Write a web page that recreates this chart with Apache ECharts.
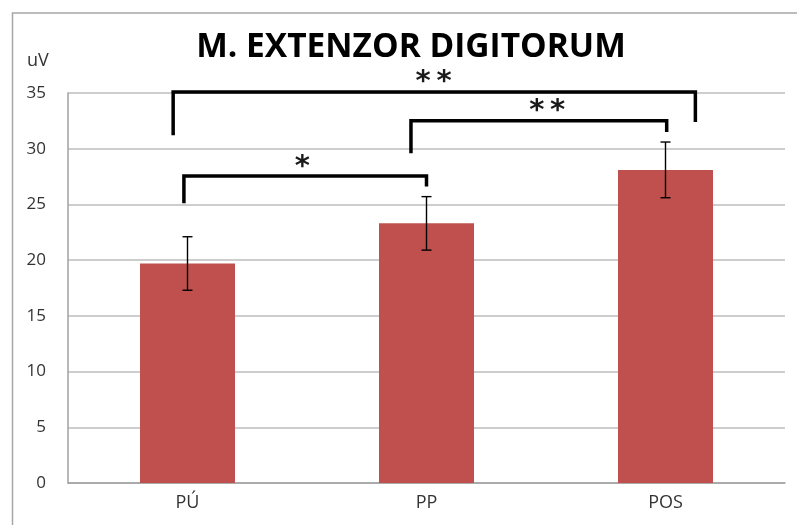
<!DOCTYPE html>
<html><head><meta charset="utf-8">
<script src="https://cdn.jsdelivr.net/npm/echarts@6/dist/echarts.min.js"></script>
<style>html,body{margin:0;padding:0;background:#fff}#c{width:797px;height:525px}</style>
</head><body><div id="c"></div>
<script>
// ---- data ----
const categories = ['PÚ', 'PP', 'POS'];
const means = [19.7, 23.3, 28.1];
const errors = [2.4, 2.4, 2.5];
const yMin = 0, yMax = 35, yStep = 5;
// significance brackets (x in category units, y in uV)
const bracketLeft = [-0.015, 0.935, -0.06];
const bracketRight = [1.0, 2.005, 2.125];
const bracketTop = [27.55, 32.5, 35.1];
const bracketLeftEnd = [25.1, 29.6, 31.2];
const bracketRightEnd = [26.6, 31.5, 32.4];
const bracketLabels = ['*', '**', '**'];
const bracketLabelX = [0.48, 1.505, 1.03];

const errData = categories.map((c, i) => [i, means[i] + errors[i], means[i] - errors[i]]);
const brData = bracketLabels.map((l, i) => [bracketLeft[i], bracketRight[i], bracketTop[i], bracketLeftEnd[i], bracketRightEnd[i], bracketLabelX[i]]);

const chart = echarts.init(document.getElementById('c'), null, {renderer: 'canvas'});
chart.setOption({
  animation: false,
  backgroundColor: '#fff',
  title: {
    text: 'M. EXTENZOR DIGITORUM',
    left: 406, top: 25, textAlign: 'center',
    textStyle: {fontFamily: 'Open Sans', fontWeight: 'bold', fontSize: 33.5, color: '#000'}
  },
  graphic: [
    {type: 'rect', shape: {x: 12.5, y: 13, width: 900, height: 600}, style: {fill: 'none', stroke: '#a6a6a6', lineWidth: 1.5}, z: -10},
    {type: 'text', left: 27, top: 52, style: {text: 'uV', fontFamily: 'Open Sans', fontSize: 18, fill: '#333'}}
  ],
  grid: {left: 68, right: 12, top: 93, bottom: 42, containLabel: false},
  xAxis: [
    {type: 'category', data: categories, gridIndex: 0,
     axisLine: {lineStyle: {color: '#a0a0a0', width: 1.5}},
     axisTick: {show: false},
     axisLabel: {fontFamily: 'Open Sans', fontSize: 18, color: '#333', margin: 11}},
    {type: 'value', min: -0.5, max: 2.5, show: false, gridIndex: 0}
  ],
  yAxis: {
    type: 'value', min: yMin, max: yMax, interval: yStep,
    axisLine: {show: true, onZero: false, lineStyle: {color: '#a0a0a0', width: 1.5}},
    axisTick: {show: false},
    splitLine: {lineStyle: {color: '#bdbdbd', width: 1.5}},
    axisLabel: {fontFamily: 'Open Sans', fontSize: 17, color: '#333', margin: 22}
  },
  series: [
    {type: 'bar', data: means, barWidth: 95, itemStyle: {color: '#c0504d'}, xAxisIndex: 0},
    {type: 'custom', xAxisIndex: 0, data: errData, z: 5,
     renderItem: function (params, api) {
       const x = api.value(0);
       const hi = api.coord([x, api.value(1)]);
       const lo = api.coord([x, api.value(2)]);
       const w = 5;
       const st = {stroke: '#000', lineWidth: 1.4};
       return {type: 'group', children: [
         {type: 'line', shape: {x1: hi[0], y1: hi[1], x2: lo[0], y2: lo[1]}, style: st},
         {type: 'line', shape: {x1: hi[0] - w, y1: hi[1], x2: hi[0] + w, y2: hi[1]}, style: st},
         {type: 'line', shape: {x1: lo[0] - w, y1: lo[1], x2: lo[0] + w, y2: lo[1]}, style: st}
       ]};
     }},
    {type: 'custom', xAxisIndex: 1, data: brData, z: 6, clip: false,
     renderItem: function (params, api) {
       const d = brData[params.dataIndex];
       const a = api.coord([d[0], d[3]]);
       const b = api.coord([d[0], d[2]]);
       const c = api.coord([d[1], d[2]]);
       const e = api.coord([d[1], d[4]]);
       const t = api.coord([d[5], d[2]]);
       const stars = bracketLabels[params.dataIndex].split('').join('\u2009');
       return {type: 'group', children: [
         {type: 'polyline', shape: {points: [a, b, c, e]}, style: {stroke: '#000', lineWidth: 3.5, fill: 'none', lineJoin: 'miter'}},
         {type: 'text', x: t[0], y: t[1] - 9,
          style: {text: stars, fontFamily: 'DejaVu Sans', fontWeight: 'bold', fontSize: 29, fill: '#1a1a1a', align: 'center', verticalAlign: 'middle'}}
       ]};
     }}
  ]
});
</script>
</body></html>
